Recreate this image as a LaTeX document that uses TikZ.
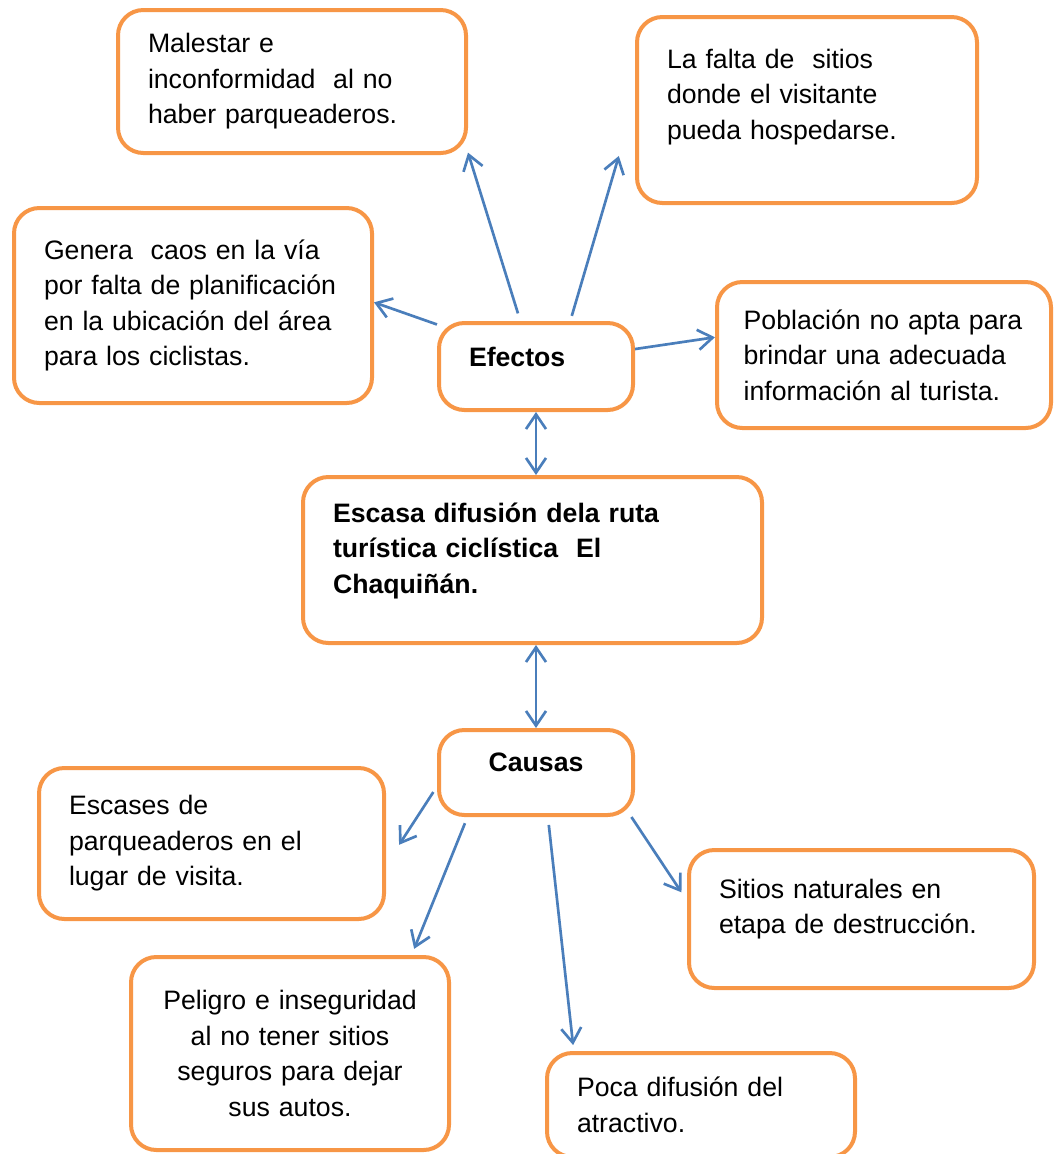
\documentclass[tikz,border=0pt]{standalone}
\usepackage{fontspec}
\setmainfont{Liberation Sans}
\usetikzlibrary{arrows.meta}

\definecolor{boxorange}{HTML}{F79646}
\definecolor{arrowblue}{HTML}{4A7EBB}

\begin{document}
\begin{tikzpicture}[
  x=0.75pt, y=-0.75pt,
  >={Straight Barb[length=11pt,width=15pt]},
  orangebox/.style={
    draw=boxorange, fill=white, rounded corners=19pt,
    align=left, inner xsep=22.5pt, inner ysep=0pt,
    font=\fontsize{20}{26.6}\selectfont, line width=3pt
  },
  titlebox/.style={orangebox, font=\fontsize{20}{26.6}\selectfont\bfseries},
  conn/.style={draw=arrowblue, line width=2pt, ->},
  dconn/.style={draw=arrowblue, line width=2pt, <->},
]
\useasboundingbox (0,0) rectangle (1056,1154);
\clip (0,0) rectangle (1056,1154);

%% Efectos (upper half)
\node[orangebox, text width=216pt, minimum height=107.25pt] (malestar) at (292,81.5)
  {Malestar e\\inconformidad\ \ al no\\haber parqueaderos.};
\node[orangebox, text width=210pt, text depth=77pt, minimum height=139.5pt] (lafalta) at (807,110)
  {La falta de\ \ sitios\\donde el visitante\\pueda hospedarse.};
\node[orangebox, text width=223.5pt, minimum height=146.25pt] (genera) at (193,305.5)
  {Genera\ \ caos en la vía\\por falta de planificación\\en la ubicación del área\\para los ciclistas.};
\node[titlebox, text width=100.5pt, text depth=15pt, minimum height=65.25pt] (efectos) at (536,366.5)
  {Efectos};
\node[orangebox, inner xsep=20pt, text width=210.5pt, minimum height=109.5pt] (poblacion) at (884,355)
  {Población no apta para\\brindar una adecuada\\información al turista.};

%% Central problem
\node[titlebox, text width=299.25pt, text depth=71pt, minimum height=124.5pt] (escasa) at (532.5,560)
  {Escasa difusión dela ruta\\turística ciclística\ \ El\\Chaquiñán.};

%% Causas (lower half)
\node[titlebox, align=center, text width=100.5pt, text depth=15pt, minimum height=63.75pt] (causas) at (536,772.5)
  {Causas};
\node[orangebox, text width=213.75pt, minimum height=113.25pt] (escases) at (211.5,843.5)
  {Escases de\\parqueaderos en el\\lugar de visita.};
\node[orangebox, text width=213.75pt, text depth=46pt, minimum height=103.5pt] (sitios) at (861.5,919)
  {Sitios naturales en\\etapa de destrucción.};
\node[orangebox, align=center, text width=193.5pt, minimum height=144.75pt] (peligro) at (290,1053.5)
  {Peligro e inseguridad\\al no tener sitios\\seguros para dejar\\sus autos.};
\node[orangebox, text width=186pt, minimum height=78pt] (poca) at (701,1105)
  {Poca difusión del\\atractivo.};

%% Connections from Efectos
\draw[conn, shorten <=6pt] (efectos.109) -- (malestar.-22);
\draw[conn, shorten <=4pt, shorten >=43pt] (efectos.53) -- (lafalta.177);
\draw[conn] (efectos.157) -- (genera.1);
\draw[conn] (efectos.10) -- (poblacion.174);

%% Vertical links through the central problem
\draw[dconn] (efectos.south) -- (efectos.south |- escasa.north);
\draw[dconn] (causas.north |- escasa.south) -- (causas.north);

%% Connections from Causas
\draw[conn, shorten <=5pt, shorten >=18pt] (causas.188) -- (escases.-7);
\draw[conn, shorten <=5pt, shorten >=5pt] (causas.213) -- (peligro.39);
\draw[conn, shorten <=6pt, shorten >=4.5pt] (causas.-75) -- (poca.157);
\draw[conn, shorten >=7.5pt] (causas.-25) -- (sitios.174);

\end{tikzpicture}
\end{document}
